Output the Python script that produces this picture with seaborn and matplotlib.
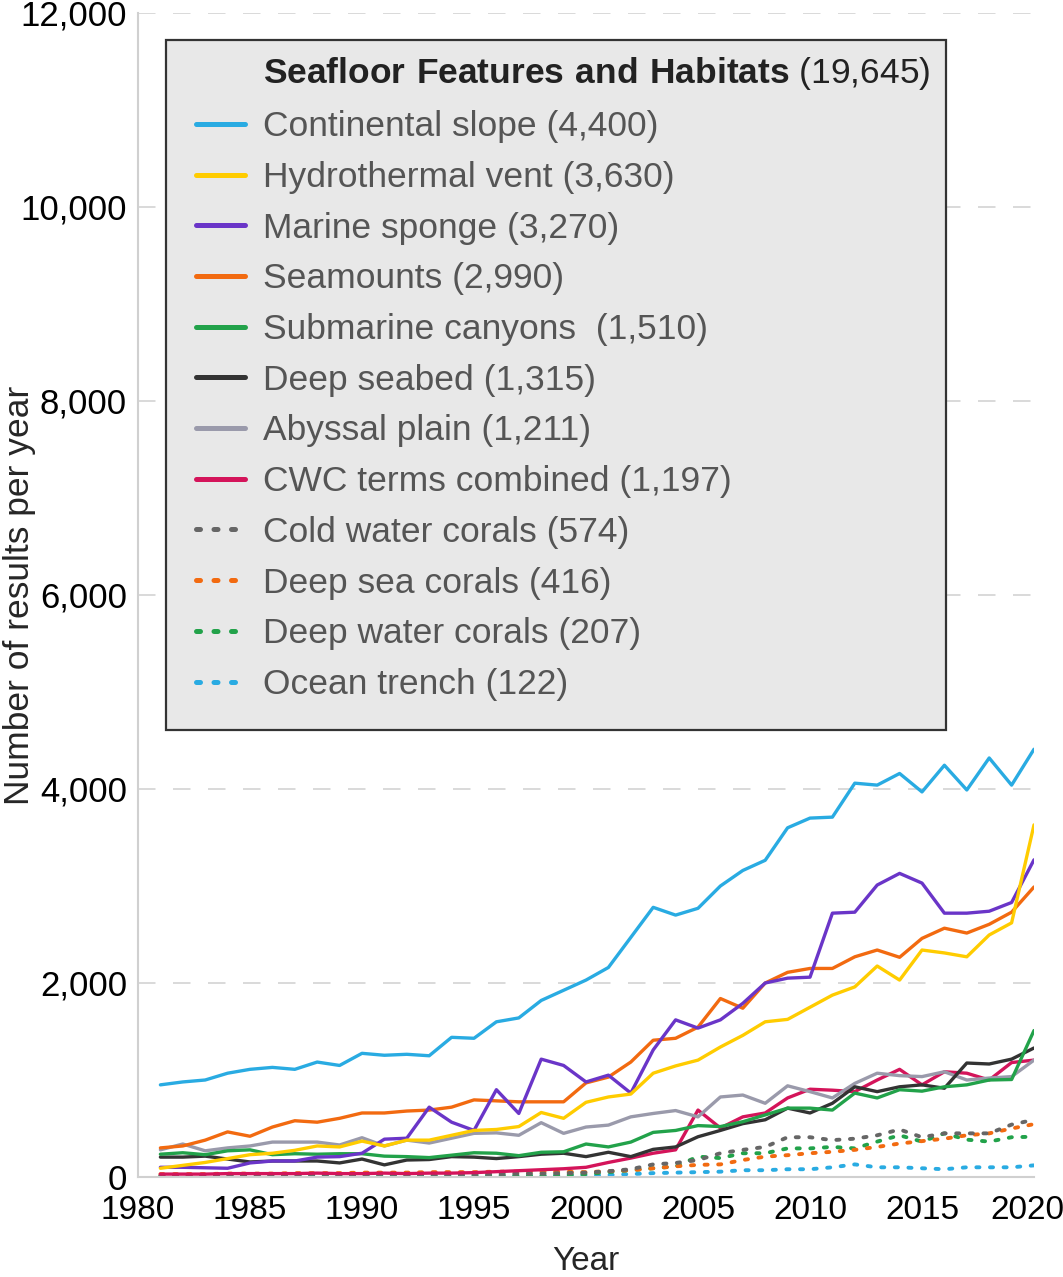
import numpy as np
import pandas as pd
import seaborn as sns
import matplotlib.pyplot as plt
import matplotlib.transforms as mtransforms
from matplotlib.lines import Line2D
from matplotlib.patches import Rectangle

years = list(range(1981, 2021))

continental_slope = [950, 980, 1000, 1070, 1110, 1130, 1110, 1185, 1150, 1275,
                     1255, 1265, 1250, 1440, 1430, 1600, 1640, 1820, 1925, 2030,
                     2160, 2470, 2780, 2700, 2770, 3000, 3160, 3265, 3600, 3700,
                     3710, 4060, 4040, 4160, 3970, 4245, 3990, 4320, 4040, 4410]
hydrothermal_vent = [90, 120, 150, 190, 230, 245, 275, 320, 310, 370,
                     320, 380, 380, 430, 480, 490, 520, 665, 605, 770,
                     825, 855, 1070, 1145, 1205, 1340, 1460, 1600, 1625, 1750,
                     1875, 1960, 2175, 2030, 2340, 2310, 2270, 2495, 2620, 3630]
marine_sponge = [100, 100, 95, 90, 145, 165, 165, 205, 210, 245,
                 390, 400, 720, 565, 480, 900, 655, 1215, 1150, 980,
                 1050, 865, 1310, 1620, 1535, 1620, 1790, 2000, 2050, 2060,
                 2720, 2730, 3010, 3130, 3030, 2720, 2720, 2740, 2830, 3270]
seamounts = [300, 320, 380, 465, 420, 515, 580, 565, 605, 660,
             660, 680, 690, 720, 795, 785, 775, 775, 775, 970,
             1030, 1185, 1410, 1430, 1545, 1840, 1740, 2000, 2110, 2150,
             2150, 2270, 2340, 2265, 2460, 2565, 2515, 2605, 2730, 2990]
submarine_canyons = [235, 250, 230, 270, 280, 230, 240, 235, 240, 240,
                     215, 210, 200, 225, 250, 245, 220, 255, 260, 340,
                     310, 360, 460, 480, 530, 520, 570, 640, 710, 710,
                     690, 865, 815, 900, 885, 930, 950, 1000, 1005, 1510]
deep_seabed = [205, 205, 215, 185, 155, 165, 165, 165, 145, 185,
               125, 175, 180, 210, 205, 190, 210, 235, 245, 210,
               255, 210, 285, 310, 415, 480, 550, 590, 710, 660,
               760, 930, 880, 930, 950, 915, 1175, 1165, 1215, 1330]
abyssal_plain = [280, 340, 270, 300, 320, 360, 360, 360, 330, 405,
                 320, 380, 350, 400, 450, 455, 430, 560, 450, 515,
                 535, 620, 655, 685, 620, 825, 845, 760, 940, 880,
                 815, 965, 1070, 1045, 1035, 1085, 1000, 1020, 1035, 1205]
cwc_combined = [30, 30, 30, 35, 35, 35, 35, 40, 35, 35,
                40, 35, 40, 40, 45, 55, 65, 75, 85, 100,
                150, 195, 245, 280, 690, 505, 620, 660, 815, 905,
                895, 880, 1000, 1110, 950, 1085, 1070, 1000, 1180, 1205]
cold_water_corals = [15, 15, 15, 15, 20, 20, 20, 25, 20, 25,
                     25, 20, 25, 25, 30, 30, 35, 35, 40, 45,
                     60, 80, 130, 145, 175, 245, 280, 310, 410, 410,
                     380, 395, 430, 490, 410, 450, 450, 450, 540, 590]
deep_sea_corals = [30, 30, 30, 35, 35, 35, 40, 40, 40, 45,
                   45, 45, 50, 50, 50, 55, 55, 55, 55, 50,
                   60, 70, 90, 110, 125, 130, 175, 210, 225, 245,
                   260, 280, 310, 345, 370, 395, 430, 450, 500, 545]
deep_water_corals = [10, 10, 10, 10, 10, 10, 10, 10, 10, 10,
                     10, 10, 10, 15, 15, 15, 15, 15, 20, 30,
                     50, 70, 90, 110, 210, 195, 245, 245, 295, 295,
                     310, 295, 365, 430, 365, 450, 385, 365, 410, 415]
ocean_trench = [5, 5, 5, 5, 5, 5, 5, 5, 5, 5,
                5, 5, 5, 5, 5, 10, 10, 10, 15, 15,
                20, 30, 40, 45, 50, 55, 70, 70, 80, 80,
                100, 130, 100, 100, 90, 80, 100, 100, 100, 120]

labels = ["Continental slope (4,400)", "Hydrothermal vent (3,630)",
          "Marine sponge (3,270)", "Seamounts (2,990)",
          "Submarine canyons  (1,510)", "Deep seabed (1,315)",
          "Abyssal plain (1,211)", "CWC terms combined (1,197)",
          "Cold water corals (574)", "Deep sea corals (416)",
          "Deep water corals (207)", "Ocean trench (122)"]
series = [continental_slope, hydrothermal_vent, marine_sponge, seamounts,
          submarine_canyons, deep_seabed, abyssal_plain, cwc_combined,
          cold_water_corals, deep_sea_corals, deep_water_corals, ocean_trench]
colors = ["#29abe2", "#ffcc00", "#6a35c8", "#f26a10", "#22a24a", "#333333",
          "#9a9aab", "#d4145a", "#666666", "#f26a10", "#22a24a", "#29abe2"]
dotted = [False] * 8 + [True] * 4

sns.set_style("white")
plt.rcParams['font.family'] = ['Liberation Sans', 'DejaVu Sans']
plt.rcParams['mathtext.fontset'] = 'custom'
plt.rcParams['mathtext.bf'] = 'Liberation Sans:bold'
plt.rcParams['mathtext.rm'] = 'Liberation Sans'

fig = plt.figure(figsize=(10.63, 12.77), dpi=100)
ax = fig.add_axes([138 / 1063, 1 - 1177 / 1277, 896 / 1063, 1164 / 1277])

# dotted ones underneath, solid ones on top
for i in reversed(range(len(series))):
    df = pd.DataFrame({"year": years, "n": series[i]})
    if dotted[i]:
        sns.lineplot(data=df, x="year", y="n", ax=ax, color=colors[i],
                     lw=2.8, linestyle=(0, (0.8, 2.7)),
                     dash_capstyle="round", label=labels[i], zorder=2)
    else:
        sns.lineplot(data=df, x="year", y="n", ax=ax, color=colors[i],
                     lw=2.4, solid_joinstyle="round", solid_capstyle="round",
                     label=labels[i], zorder=3)

ax.set_xlim(1980, 2020)
ax.set_ylim(0, 12000)
ax.set_xticks(range(1980, 2021, 5))
ax.set_yticks(range(0, 12001, 2000))
ax.set_yticklabels([f"{v:,}" for v in range(0, 12001, 2000)])
ax.tick_params(axis="x", labelsize=24, colors="#cccccc", labelcolor="black",
               length=7, width=1.2, direction="out", pad=6)
ax.tick_params(axis="y", labelsize=25, colors="#cccccc", labelcolor="black",
               length=6, width=1.2, direction="out", pad=2)

# last year label sits against the right edge
last = ax.get_xticklabels()[-1]
last.set_transform(last.get_transform() +
                   mtransforms.ScaledTranslation(-0.07, 0, fig.dpi_scale_trans))

for v in range(2000, 12001, 2000):
    ax.axhline(v, color="#d9d9d9", lw=1.4, dashes=(9, 9), zorder=0)

sns.despine(ax=ax)
for s in ["left", "bottom"]:
    ax.spines[s].set_color("#d0d0d0")
    ax.spines[s].set_linewidth(1.5)

ax.set_xlabel("Year", fontsize=24, labelpad=14)
ax.set_ylabel("Number of results per year", fontsize=25.5)
ax.yaxis.set_label_coords(-0.1138, 0.5)

# legend box drawn separately so its padding can match
ax.add_patch(Rectangle((0.03125, 0.384), 0.8705, 0.5928, transform=ax.transAxes,
                       facecolor="#e8e8e8", edgecolor="#333333", lw=1.6,
                       zorder=4))

handles, labs = ax.get_legend_handles_labels()
order = [labs.index(l) for l in labels]
handles = [handles[k] for k in order]
title_handle = Line2D([], [], color="none")
leg = ax.legend([title_handle] + handles,
                [r"$\mathbf{Seafloor\ Features\ and\ Habitats}$ (19,645)"] + labels,
                loc="upper left", bbox_to_anchor=(0.0647, 0.9635),
                fontsize=25.5, frameon=False,
                handlelength=1.38, handletextpad=0.5, labelspacing=0.5,
                borderpad=0, borderaxespad=0)
leg.set_zorder(5)
for h in leg.legend_handles:
    h.set_linewidth(3.6)
for k, t in enumerate(leg.get_texts()):
    t.set_color("#222222" if k == 0 else "#555555")

fig.savefig("out.png", dpi=100)
